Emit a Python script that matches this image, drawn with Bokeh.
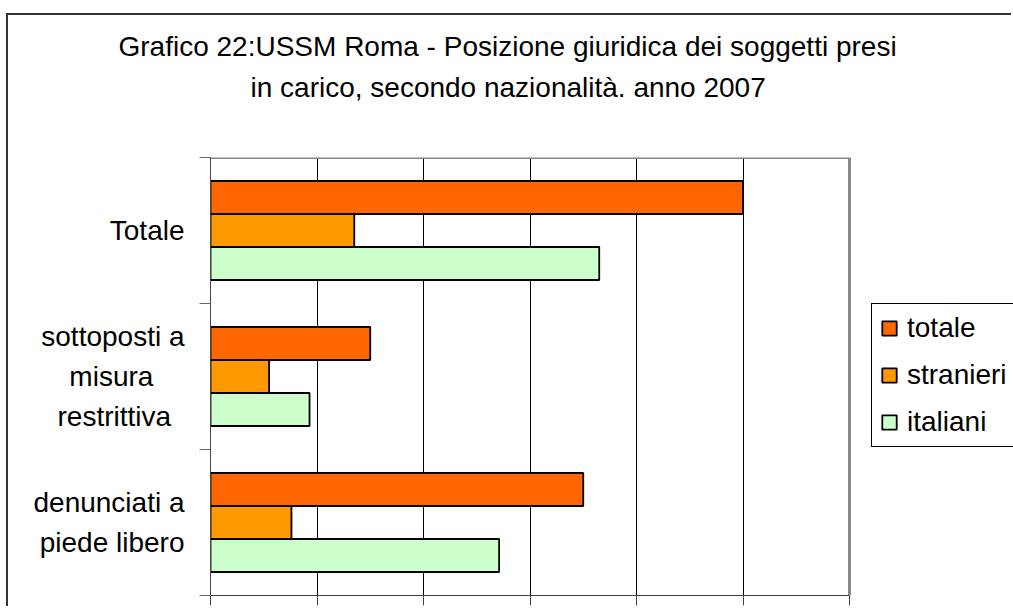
from bokeh.plotting import figure
from bokeh.models import (Range1d, FixedTicker, Legend, LegendItem, Title,
                          ColumnDataSource)
from bokeh.embed import file_html
from bokeh.resources import INLINE

# ---- data (top to bottom as in the chart) ----
categories = ["Totale", "sottoposti a\nmisura\u00a0\u00a0\u00a0\u00a0\nrestrittiva\u00a0\u2009",
              "denunciati a\npiede libero"]
totale = [1000, 300, 700]
stranieri = [270, 110, 152]
italiani = [730, 186, 542]
series_names = ["totale", "stranieri", "italiani"]
series_colors = ["#FF6600", "#FF9900", "#CCFFCC"]
title_lines = ["Grafico 22:USSM Roma - Posizione giuridica dei soggetti presi",
               "in carico, secondo nazionalità. anno 2007"]
x_ticks = [0, 200, 400, 600, 800, 1000, 1200]

FONT = "Liberation Sans"
n = len(categories)
centers = [n - 0.5 - i for i in range(n)]  # top category at top
bar_h = 0.226
offsets = [bar_h, 0.0, -bar_h]

# canvas origin is shifted by margin + border (8, 15) on the page
OX, OY = 8, 15
W, H = 1013 - OX, 608 - OY
LEFT, TOP, BOTTOM = 210 - OX, 157 - OY, 13
PLOT_W = 849 - 210                     # width of the plot area proper
frame_w = W - LEFT                      # frame runs to the canvas edge (room for the legend)
x_max = x_ticks[-1] * frame_w / PLOT_W

p = figure(width=W, height=H, output_backend="svg", toolbar_location=None,
           x_range=Range1d(0, x_max), y_range=Range1d(0, n),
           min_border_left=LEFT, min_border_right=0, min_border_top=TOP,
           min_border_bottom=BOTTOM)
p.margin = (13, 0, 0, 6)
p.styles = {"border-left": "2px solid #333333", "border-top": "2px solid #333333"}
p.background_fill_color = "white"
p.border_fill_color = "white"
p.outline_line_color = None

renderers = []
for vals, name, col, off in zip([totale, stranieri, italiani], series_names, series_colors, offsets):
    src = ColumnDataSource(dict(y=[c + off for c in centers], right=vals))
    r = p.hbar(y="y", right="right", left=0, height=bar_h, source=src,
               fill_color=col, line_color="black", line_width=1.8)
    renderers.append(r)

# plot-area border (top and right, grey)
p.segment(x0=[0, x_ticks[-1]], y0=[n, 0], x1=[x_ticks[-1], x_ticks[-1]], y1=[n, n],
          line_color="#888888", line_width=3)

# x axis (labels lie below the visible area in the reference)
p.xaxis.ticker = FixedTicker(ticks=x_ticks)
p.xaxis.bounds = (0, x_ticks[-1])
p.xaxis.major_label_overrides = {v: "" for v in x_ticks}
p.xaxis.major_label_text_font_size = "0px"
p.xaxis.major_label_standoff = 0
p.xaxis.major_tick_out = 10
p.xaxis.major_tick_in = 0
p.xaxis.minor_tick_line_color = None
p.xaxis.axis_line_color = "#444444"
p.xaxis.major_tick_line_color = "#444444"
p.xgrid.ticker = FixedTicker(ticks=x_ticks[1:-1])
p.xgrid.grid_line_color = "black"
p.xgrid.grid_line_width = 1
p.ygrid.grid_line_color = None

# y axis: labels at category centres, tick marks at the boundaries
p.yaxis.ticker = FixedTicker(ticks=centers, minor_ticks=list(range(n + 1)))
p.yaxis.major_label_overrides = {c: lab for c, lab in zip(centers, categories)}
p.yaxis.major_tick_out = 0
p.yaxis.major_tick_in = 0
p.yaxis.minor_tick_out = 11
p.yaxis.minor_tick_in = 0
p.yaxis.minor_tick_line_color = "#666666"
p.yaxis.axis_line_color = "#444444"
p.yaxis.major_label_standoff = 15
p.yaxis.major_label_text_font = FONT
p.yaxis.major_label_text_font_size = "28px"
p.yaxis.major_label_text_color = "black"
p.yaxis.major_label_text_line_height = 1.3

# legend (inside the frame area right of the plot area, runs past the page edge)
legend = Legend(items=[LegendItem(label=nm, renderers=[r]) for nm, r in zip(series_names, renderers)],
                location=(661, 148), margin=0, padding=8, spacing=15,
                glyph_width=18, glyph_height=18, label_standoff=9, label_width=130,
                label_text_font=FONT, label_text_font_size="28px",
                label_text_color="black",
                border_line_color="black", border_line_width=1, border_line_alpha=1.0,
                background_fill_color="white", background_fill_alpha=1.0)
p.add_layout(legend)

# title: spacer nearest the frame, then the second line, then the first
p.add_layout(Title(text=" ", text_font_size="1px", standoff=48), "above")
p.add_layout(Title(text=title_lines[1], align="left", offset=40, standoff=8,
                   text_font=FONT, text_font_size="28px", text_font_style="normal",
                   text_color="black"), "above")
p.add_layout(Title(text=title_lines[0], align="left", offset=-92, standoff=8,
                   text_font=FONT, text_font_size="28px", text_font_style="normal",
                   text_color="black"), "above")

open("out.html", "w").write(file_html(p, INLINE))
